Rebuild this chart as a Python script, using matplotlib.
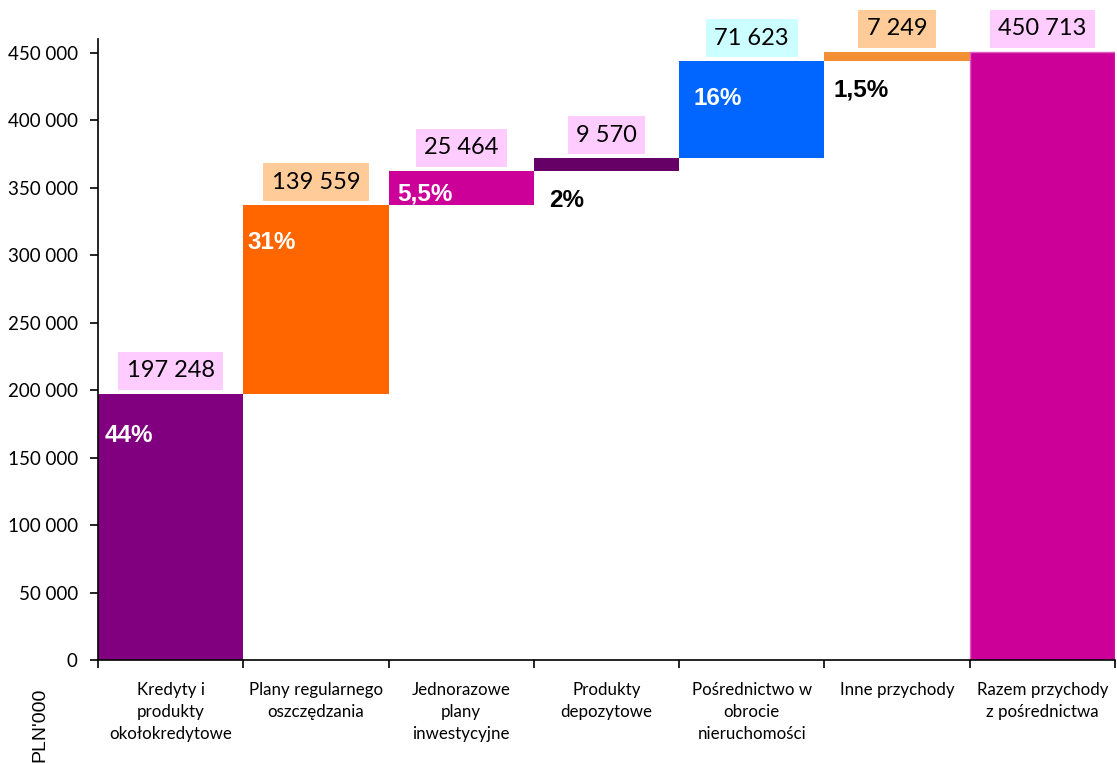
import matplotlib
matplotlib.use("Agg")
import matplotlib.pyplot as plt
from matplotlib.ticker import FuncFormatter, FixedLocator
import numpy as np

categories = ["Kredyty i\nprodukty\nokołokredytowe", "Plany regularnego\noszczędzania",
              "Jednorazowe\nplany\ninwestycyjne", "Produkty\ndepozytowe",
              "Pośrednictwo w\nobrocie\nnieruchomości", "Inne przychody",
              "Razem przychody\nz pośrednictwa"]
increments = [197248, 139559, 25464, 9570, 71623, 7249]
total = 450713
value_labels = ["197 248", "139 559", "25 464", "9 570", "71 623", "7 249", "450 713"]
pct_labels = ["44%", "31%", "5,5%", "2%", "16%", "1,5%"]
pct_inside = [True, True, True, False, True, False]
y_ticks = [0, 50000, 100000, 150000, 200000, 250000, 300000, 350000, 400000, 450000]

# layout (pixel offsets of percentage labels relative to bar corner)
pct_dx_px = [7, 4, 9, 15, 14, 9]
pct_dy_px = [-42, -37, -23, -30, -37, -29]

bar_colors = ["#800080", "#FF6600", "#CC0099", "#660066", "#0066FF", "#F39033", "#CC0099"]
box_colors = ["#FFCCFF", "#FFCC99", "#FFCCFF", "#FFCCFF", "#CCFFFF", "#FFCC99", "#FFCCFF"]

W, H = 1117, 763
fig = plt.figure(figsize=(W / 100, H / 100), dpi=100)
ax = fig.add_axes([98 / W, (H - 660) / H, (1115 - 98) / W, (660 - 39) / H])

bottoms = list(np.cumsum([0] + increments[:-1]))
heights = increments + [total]
bottoms = bottoms + [0]
x = np.arange(len(categories))
bars = ax.bar(x, heights, bottom=bottoms, width=1.0, color=bar_colors, align="center")
bars[-1].set_edgecolor("#E060C0")
bars[-1].set_linewidth(1.0)

ax.set_xlim(-0.5, len(categories) - 0.5)
ax.set_ylim(0, 460000)

PT = 0.72  # points per pixel at dpi 100

# value label boxes
for i in range(len(categories)):
    top = bottoms[i] + heights[i]
    ax.annotate(value_labels[i], xy=(x[i], top), xytext=(0, 23 * PT), textcoords="offset points",
                ha="center", va="center", fontsize=17, family="Lato", color="black",
                bbox=dict(boxstyle="square,pad=0.36", fc=box_colors[i], ec="none"))

# percentage labels
for i, p in enumerate(pct_labels):
    left = x[i] - 0.5
    if pct_inside[i]:
        y0 = bottoms[i] + heights[i]
        col = "white"
    else:
        y0 = bottoms[i]
        col = "black"
    ax.annotate(p, xy=(left, y0), xytext=(pct_dx_px[i] * PT, pct_dy_px[i] * PT),
                textcoords="offset points", ha="left", va="center", fontsize=17.5,
                fontweight="bold", family="Liberation Sans", color=col)

ax.spines["top"].set_visible(False)
ax.spines["right"].set_visible(False)
for s in ["left", "bottom"]:
    ax.spines[s].set_linewidth(1.2)

ax.yaxis.set_major_locator(FixedLocator(y_ticks))
ax.yaxis.set_major_formatter(FuncFormatter(lambda v, p: f"{int(v):,}".replace(",", " ")))
ax.tick_params(axis="y", direction="out", length=5.5, width=1.2, labelsize=13.5, pad=9)
for lab in ax.get_yticklabels():
    lab.set_family("Lato")

ax.set_xticks(np.arange(-0.5, len(categories), 1.0))
ax.set_xticklabels([])
ax.set_xticks(x, minor=True)
ax.set_xticklabels(categories, minor=True, fontsize=12.2, family="Lato", linespacing=1.45)
ax.tick_params(axis="x", which="major", direction="out", length=5.5, width=1.2)
ax.tick_params(axis="x", which="minor", length=0, pad=16)

fig.text(40 / W, (H - 725) / H, "PLN'000", rotation=90, ha="center", va="center",
         fontsize=14, family="Liberation Sans")

fig.savefig("out.png", dpi=100)
